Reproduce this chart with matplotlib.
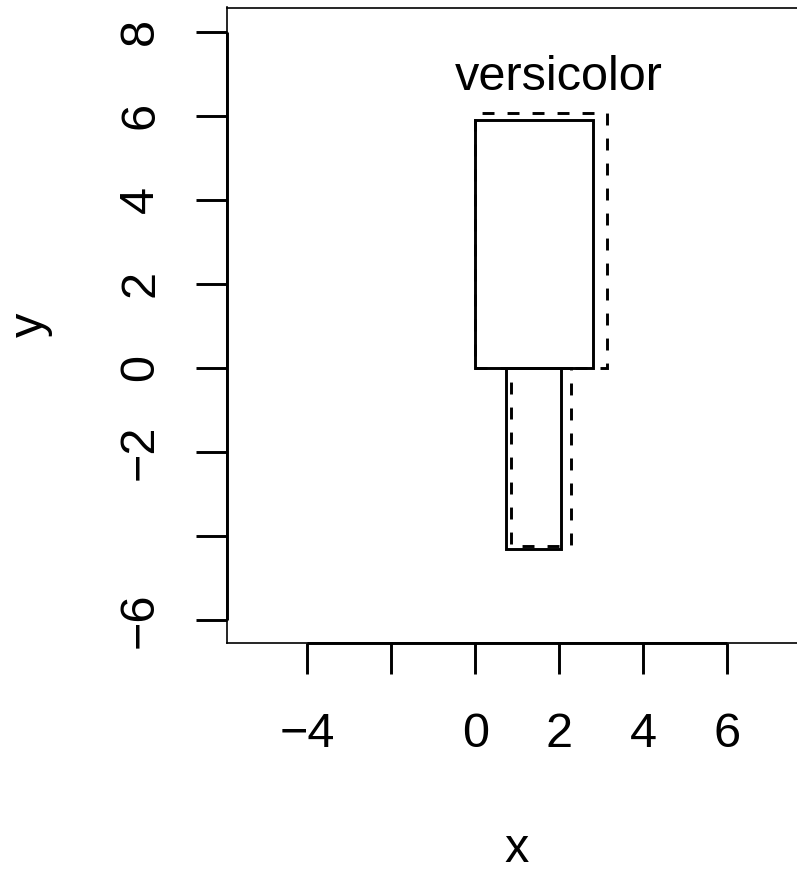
import matplotlib
matplotlib.use("Agg")
import matplotlib.pyplot as plt

plt.rcParams['font.family'] = ['Liberation Sans', 'DejaVu Sans']
plt.rcParams['lines.scale_dashes'] = False

# rectangles: solid (means) and dashed (second statistic), sepal above 0, petal below
solid_left = [0.0, 0.74]
solid_width = [2.80, 1.31]
solid_height = [5.90, -4.31]
dash_left = [0.0, 0.85]
dash_width = [3.13, 1.43]
dash_height = [6.08, -4.23]

label_text = "versicolor"
label_pos = (1.99, 6.62)

x_ticks = [-4, -2, 0, 2, 4, 6]
x_labels = ['\u22124', '', '0', '2', '4', '6']
y_ticks = [-6, -4, -2, 0, 2, 4, 6, 8]
y_labels = ['\u22126', '', '\u22122', '0', '2', '4', '6', '8']

fig = plt.figure(figsize=(7.97, 8.72), dpi=100)
ax = fig.add_axes([227 / 797, 1 - 643 / 872, (806 - 227) / 797, (643 - 7.5) / 872])
ax.set_xlim(-5.91, 7.88)
ax.set_ylim(-6.55, 8.58)

ax.bar(solid_left, solid_height, width=solid_width, align='edge',
       fill=False, edgecolor='black', linewidth=2.1)
ax.bar(dash_left, dash_height, width=dash_width, align='edge',
       fill=False, edgecolor='black', linewidth=2.1, linestyle=(0, (8.6, 9.4)))

ax.text(label_pos[0], label_pos[1], label_text, ha='center', va='baseline', fontsize=35)

for s in ax.spines.values():
    s.set_linewidth(1.2)

# R style axis lines from first to last tick
ax.plot([x_ticks[0], x_ticks[-1]], [-6.55, -6.55], color='black', lw=2.1,
        clip_on=False, solid_capstyle='butt')
ax.plot([-5.91, -5.91], [y_ticks[0], y_ticks[-1]], color='black', lw=2.1,
        clip_on=False, solid_capstyle='butt')

ax.set_xticks(x_ticks)
ax.set_xticklabels(x_labels, fontsize=35)
ax.set_yticks(y_ticks)
ax.set_yticklabels(y_labels, fontsize=35, rotation=90, va='center')
ax.tick_params(axis='both', direction='out', length=22, width=2.1)
ax.tick_params(axis='x', pad=28)
ax.tick_params(axis='y', pad=24)

fig.text(517 / 797, 1 - 862 / 872, 'x', ha='center', va='baseline', fontsize=35)
fig.text(30 / 797, 1 - 325 / 872, 'y', ha='center', va='center', fontsize=35, rotation=90)

fig.savefig('out.png', dpi=100)
